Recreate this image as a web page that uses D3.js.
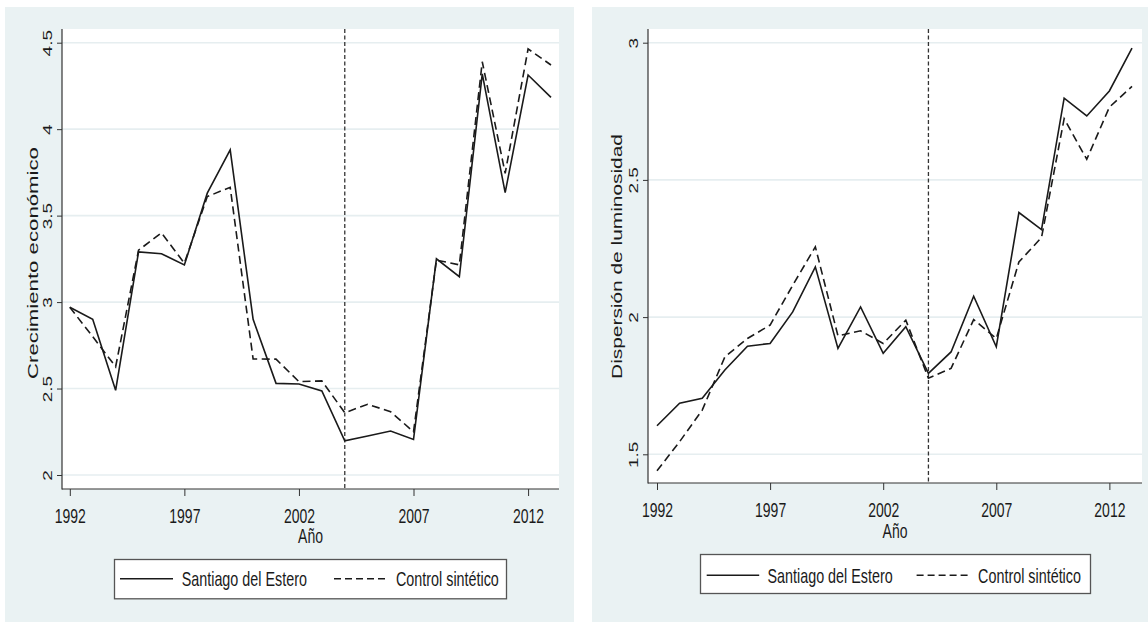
<!DOCTYPE html>
<html>
<head>
<meta charset="utf-8">
<script src="https://cdn.jsdelivr.net/npm/d3@7"></script>
<style>
  body { margin: 0; background: #ffffff; }
  svg { display: block; }
</style>
</head>
<body>
<svg width="1148" height="622"></svg>
<script>
const years = [1992, 1993, 1994, 1995, 1996, 1997, 1998, 1999, 2000, 2001, 2002,
               2003, 2004, 2005, 2006, 2007, 2008, 2009, 2010, 2011, 2012, 2013];

const crecimientoSantiago = [2.97, 2.90, 2.49, 3.29, 3.28, 3.215, 3.63, 3.88, 2.90, 2.53, 2.526,
                             2.486, 2.198, 2.226, 2.254, 2.206, 3.25, 3.147, 4.32, 3.633, 4.313, 4.184];
const crecimientoControl = [2.97, 2.80, 2.626, 3.30, 3.40, 3.225, 3.61, 3.664, 2.671, 2.67, 2.54,
                            2.544, 2.36, 2.409, 2.366, 2.25, 3.243, 3.215, 4.39, 3.745, 4.464, 4.371];

const dispersionSantiago = [1.604, 1.686, 1.704, 1.807, 1.894, 1.904, 2.019, 2.183, 1.886, 2.037, 1.868,
                            1.965, 1.795, 1.873, 2.076, 1.892, 2.381, 2.319, 2.798, 2.733, 2.824, 2.98];
const dispersionControl = [1.44, 1.546, 1.661, 1.855, 1.922, 1.971, 2.116, 2.256, 1.932, 1.95, 1.904,
                           1.989, 1.777, 1.813, 1.991, 1.922, 2.201, 2.29, 2.723, 2.575, 2.765, 2.841];

const xTickYears = [1992, 1997, 2002, 2007, 2012];
const crecimientoTicks = [2, 2.5, 3, 3.5, 4, 4.5];
const dispersionTicks = [1.5, 2, 2.5, 3];
const treatmentYear = 2004;
const legendLabels = ["Santiago del Estero", "Control sintético"];
const xTitle = "Año";

const svg = d3.select("svg");
const bgColor = "#eaf2f3";
const ink = "#1a1a1a";
const squeeze = "scale(0.7,1)";

function drawPanel(p) {
    const g = svg.append("g");

    g.append("rect")
        .attr("x", p.bg[0]).attr("y", p.bg[1])
        .attr("width", p.bg[2]).attr("height", p.bg[3])
        .attr("fill", bgColor);

    g.append("rect")
        .attr("x", p.left).attr("y", p.top)
        .attr("width", p.right - p.left).attr("height", p.bottom - p.top)
        .attr("fill", "#ffffff");

    const x = d3.scaleLinear().domain([1992, 2013]).range(p.xRange);
    const y = d3.scaleLinear().domain(p.yDomain).range(p.yRange);

    // grid
    g.selectAll(".grid")
        .data(p.yTicks).enter().append("line")
        .attr("x1", p.left).attr("x2", p.right)
        .attr("y1", d => y(d)).attr("y2", d => y(d))
        .attr("stroke", "#e6eef0")
        .attr("stroke-width", 1.6);

    // axes
    const yAxis = g.append("g")
        .attr("transform", `translate(${p.left},0)`)
        .call(d3.axisLeft(y).tickValues(p.yTicks).tickSize(5).tickSizeOuter(0).tickFormat(d => String(d)));
    yAxis.select(".domain").remove();
    yAxis.selectAll(".tick line").attr("stroke", "#333");
    yAxis.selectAll(".tick text")
        .attr("x", null).attr("dy", null)
        .attr("text-anchor", "middle")
        .attr("transform", `translate(-10.5,0) ${squeeze} rotate(-90)`)
        .style("font-family", "'Liberation Sans', Arial, sans-serif")
        .style("font-size", "19px")
        .attr("fill", ink);

    const xAxis = g.append("g")
        .attr("transform", `translate(0,${p.bottom})`)
        .call(d3.axisBottom(x).tickValues(xTickYears).tickSize(7).tickSizeOuter(0).tickFormat(d3.format("d")));
    xAxis.select(".domain").remove();
    xAxis.selectAll(".tick line").attr("stroke", "#333");
    xAxis.selectAll(".tick text")
        .attr("y", null).attr("dy", null)
        .attr("transform", `translate(0,${p.tickBaseline - p.bottom}) ${squeeze}`)
        .style("font-family", "'Liberation Sans', Arial, sans-serif")
        .style("font-size", "20px")
        .attr("fill", ink);

    g.append("line")
        .attr("x1", p.left).attr("x2", p.left)
        .attr("y1", p.top).attr("y2", p.bottom + 0.5)
        .attr("stroke", "#333").attr("stroke-width", 1.2);
    g.append("line")
        .attr("x1", p.left).attr("x2", p.right)
        .attr("y1", p.bottom).attr("y2", p.bottom)
        .attr("stroke", "#333").attr("stroke-width", 1.2);

    // treatment line
    g.append("line")
        .attr("x1", x(treatmentYear)).attr("x2", x(treatmentYear))
        .attr("y1", p.top).attr("y2", p.bottom)
        .attr("stroke", "#333")
        .attr("stroke-width", 1.3)
        .attr("stroke-dasharray", "4,2.5");

    const line = d3.line()
        .x((d, i) => x(years[i]))
        .y(d => y(d));

    g.append("path")
        .datum(p.control)
        .attr("fill", "none")
        .attr("stroke", ink)
        .attr("stroke-width", 1.6)
        .attr("stroke-dasharray", "8,4.5")
        .attr("d", line);

    g.append("path")
        .datum(p.treated)
        .attr("fill", "none")
        .attr("stroke", ink)
        .attr("stroke-width", 1.6)
        .attr("d", line);

    // titles
    g.append("text")
        .attr("transform", `translate(${p.yTitleX},${p.yTitleY}) ${squeeze} rotate(-90)`)
        .attr("text-anchor", "middle")
        .style("font-family", "'Liberation Sans', Arial, sans-serif")
        .style("font-size", p.yTitleSize + "px")
        .attr("fill", ink)
        .text(p.yTitle);

    g.append("text")
        .attr("transform", `translate(${(p.left + p.right) / 2},${p.xTitleBaseline}) ${squeeze}`)
        .attr("text-anchor", "middle")
        .style("font-family", "'Liberation Sans', Arial, sans-serif")
        .style("font-size", "20px")
        .attr("fill", ink)
        .text(xTitle);

    // legend
    const L = p.legend;
    g.append("rect")
        .attr("x", L.box[0] + 0.5).attr("y", L.box[1] + 0.5)
        .attr("width", L.box[2] - L.box[0]).attr("height", L.box[3] - L.box[1])
        .attr("fill", "#ffffff")
        .attr("stroke", "#555")
        .attr("stroke-width", 1.3);

    const dashes = [null, "7,4"];
    legendLabels.forEach((label, i) => {
        g.append("line")
            .attr("x1", L.lines[i][0]).attr("x2", L.lines[i][1])
            .attr("y1", L.lineY).attr("y2", L.lineY)
            .attr("stroke", ink)
            .attr("stroke-width", 1.6)
            .attr("stroke-dasharray", dashes[i]);
        g.append("text")
            .attr("transform", `translate(${L.texts[i]},${L.textBaseline}) ${squeeze}`)
            .style("font-family", "'Liberation Sans', Arial, sans-serif")
            .style("font-size", "20.5px")
            .attr("fill", ink)
            .text(label);
    });
}

drawPanel({
    bg: [5, 7, 569, 615],
    left: 62, right: 559, top: 29, bottom: 489,
    xRange: [69.8, 551],
    yDomain: [2, 4.5], yRange: [475, 42.7],
    yTicks: crecimientoTicks,
    treated: crecimientoSantiago, control: crecimientoControl,
    tickBaseline: 522.5,
    xTitleBaseline: 543.3,
    yTitle: "Crecimiento económico", yTitleX: 38, yTitleY: 263, yTitleSize: 22.2,
    legend: {
        box: [114, 559, 506, 598.3],
        lineY: 578.7,
        lines: [[120, 173], [334, 387]],
        texts: [181.7, 396],
        textBaseline: 586
    }
});

drawPanel({
    bg: [592, 7, 556, 615],
    left: 648, right: 1142, top: 29, bottom: 483,
    xRange: [657, 1132],
    yDomain: [1.5, 3], yRange: [454.3, 42.7],
    yTicks: dispersionTicks,
    treated: dispersionSantiago, control: dispersionControl,
    tickBaseline: 516.7,
    xTitleBaseline: 537.7,
    yTitle: "Dispersión de luminosidad", yTitleX: 622, yTitleY: 256.5, yTitleSize: 20.9,
    legend: {
        box: [700, 554, 1090, 593],
        lineY: 575.3,
        lines: [[706.7, 759.2], [916.6, 970]],
        texts: [767.5, 978.1],
        textBaseline: 582.7
    }
});
</script>
</body>
</html>
